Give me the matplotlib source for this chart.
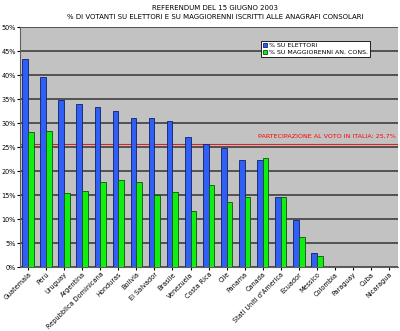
import numpy as np
import matplotlib
matplotlib.use("Agg")
from matplotlib import pyplot as plt
from matplotlib import ticker as mticker

paesi = ["Guatemala", "Perù", "Uruguay", "Argentina", "Repubblica Dominicana",
         "Honduras", "Bolivia", "El Salvador", "Brasile", "Venezuela",
         "Costa Rica", "Cile", "Panama", "Canada", "Stati Uniti d'America",
         "Ecuador", "Messico", "Colombia", "Paraguay", "Cuba", "Nicaragua"]
su_elettori = [43.3, 39.6, 34.9, 33.9, 33.4, 32.6, 31.1, 31.0, 30.4, 27.2,
               25.6, 24.8, 22.4, 22.3, 14.6, 9.9, 2.9, 0, 0, 0, 0]
su_maggiorenni = [28.1, 28.3, 15.4, 15.9, 17.8, 18.2, 17.8, 15.1, 15.7, 11.7,
                  17.1, 13.6, 14.6, 22.8, 14.7, 6.2, 2.4, 0, 0, 0, 0]
italia = 25.7

fig = plt.figure(figsize=(4.0, 3.31), dpi=100, facecolor='white')
ax = fig.add_axes([0.05, 0.193, 0.945, 0.725])
ax.set_facecolor('#c2c2c2')

x = np.arange(len(paesi))
w = 0.32
ax.bar(x - w/2, su_elettori, w, color='#2f5ff5', edgecolor='#10206a', linewidth=0.6,
       label='% SU ELETTORI', zorder=3)
ax.bar(x + w/2, su_maggiorenni, w, color='#10f010', edgecolor='#105010', linewidth=0.6,
       label='% SU MAGGIORENNI AN. CONS.', zorder=3)

ax.axhline(italia, color='#e02020', linewidth=0.8, zorder=2)
ax.text(len(paesi) - 0.6, italia + 1.0, 'PARTECIPAZIONE AL VOTO IN ITALIA: 25,7%',
        color='red', fontsize=4.6, ha='right', va='bottom', zorder=4)

ax.set_xlim(-0.45, len(paesi) - 0.5)
ax.set_ylim(0, 50)
ax.yaxis.set_major_locator(mticker.MultipleLocator(5))
ax.yaxis.set_major_formatter(mticker.FuncFormatter(lambda v, p: '%d%%' % v))
ax.grid(True, axis='y', color='#333333', linewidth=1.1, zorder=1)
ax.set_axisbelow(True)
for s in ['top', 'right']:
    ax.spines[s].set_visible(False)
ax.spines['left'].set_color('#606060')
ax.spines['bottom'].set_color('#606060')

ax.set_xticks(x)
ax.set_xticklabels(paesi, rotation=45, ha='right', rotation_mode='anchor', fontsize=4.7)
ax.tick_params(axis='y', labelsize=4.7, length=2, pad=1)
ax.tick_params(axis='x', length=2, pad=1)

leg = ax.legend(loc='upper left', bbox_to_anchor=(0.63, 0.955), fontsize=4.5,
                frameon=True, fancybox=False, edgecolor='black', framealpha=1,
                handlelength=0.6, handleheight=0.6, handletextpad=0.3,
                borderpad=0.3, labelspacing=0.3)
leg.get_frame().set_linewidth(0.6)

fig.text(0.537, 0.985, 'REFERENDUM DEL 15 GIUGNO 2003', ha='center', va='top', fontsize=5)
fig.text(0.537, 0.958, '% DI VOTANTI SU ELETTORI E SU MAGGIORENNI ISCRITTI ALLE ANAGRAFI CONSOLARI',
         ha='center', va='top', fontsize=5)

fig.savefig('out.png', dpi=100, facecolor='white')
